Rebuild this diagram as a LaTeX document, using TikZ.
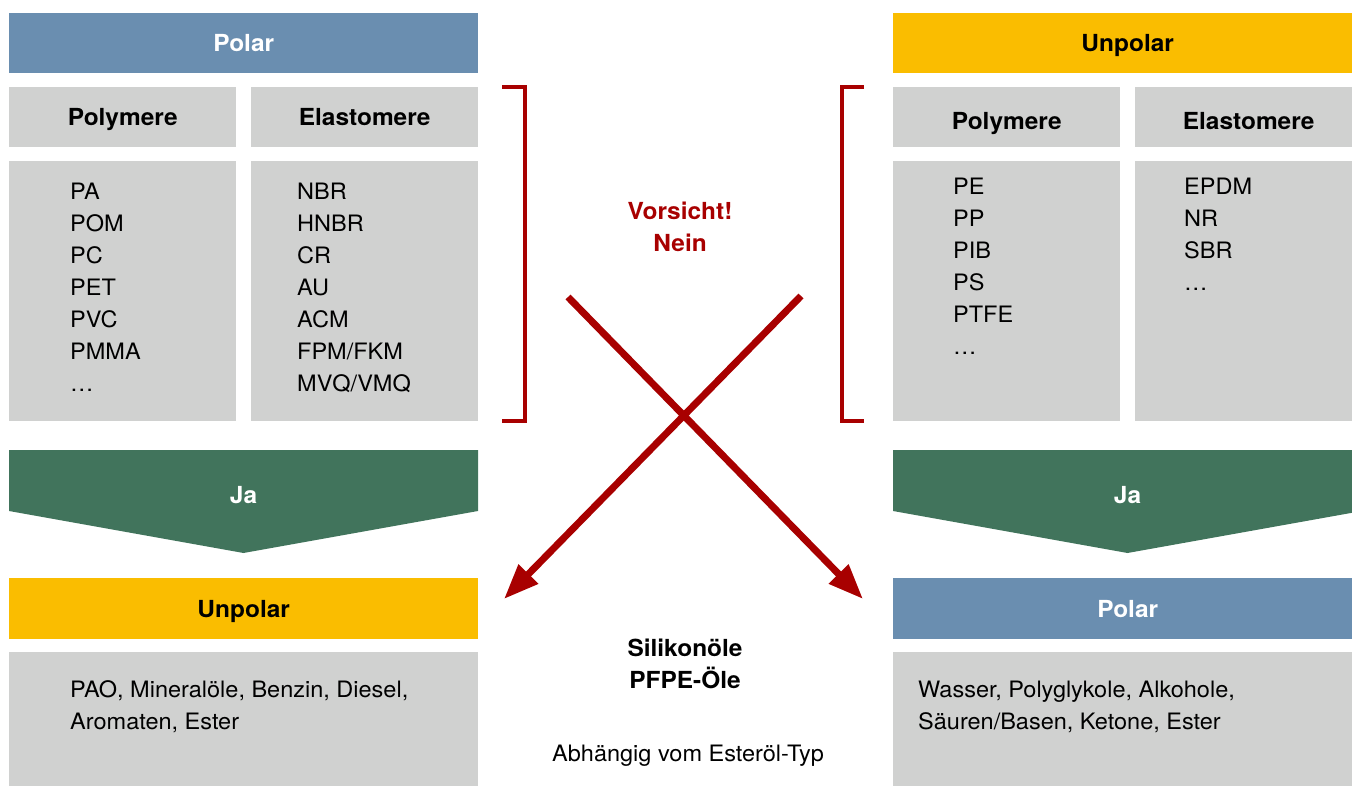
\documentclass[tikz,border=0pt]{standalone}
\usepackage{fontspec}
\setmainfont[FakeStretch=1.04]{TeX Gyre Heros}
\usetikzlibrary{arrows.meta}
\definecolor{polarblue}{HTML}{6A8EB0}
\definecolor{unpolaryellow}{HTML}{FABD00}
\definecolor{jagreen}{HTML}{41745C}
\definecolor{boxgrey}{HTML}{D0D1D0}
\definecolor{neinred}{HTML}{A80000}

\begin{document}
\begin{tikzpicture}[x=1pt,y=-1pt,
  panel/.style={anchor=north west,inner sep=0pt,text height=16.8pt,text depth=0pt,font=\fontsize{23.5}{27}\selectfont\bfseries},
  bluepanel/.style={panel,fill=polarblue,text=white,minimum width=469pt,minimum height=60pt},
  yellowpanel/.style={panel,fill=unpolaryellow,minimum width=469pt,minimum height=60pt},
  greypanel/.style={panel,fill=boxgrey,minimum width=227pt},
  listitem/.style={anchor=base west,inner sep=0pt,font=\fontsize{22.6}{27}\selectfont},
  midlabel/.style={inner sep=0pt,text height=16.8pt,text depth=0pt,font=\fontsize{23.5}{27}\selectfont\bfseries},
  bracket/.style={neinred,line width=3.5pt},
  neinarrow/.style={neinred,line width=7pt,-{Triangle[length=35pt,width=26pt]}}]
\path[use as bounding box,clip] (0,0) rectangle (1352,786);
% left column
\node[bluepanel] (polL) at (9,13) {Polar};
\node[greypanel,minimum height=60pt] (polyL) at (9,87) {Polymere};
\node[greypanel,minimum height=60pt] (elaL) at (251,87) {Elastomere};
\node[greypanel,minimum height=260pt] (polyLbox) at (9,161) {};
\node[greypanel,minimum height=260pt] (elaLbox) at (251,161) {};
\foreach \t [count=\i] in {PA,POM,PC,PET,PVC,PMMA,…} { \node[listitem] (polyL\i) at (70,{199.5+32*(\i-1)}) {\t}; }
\foreach \t [count=\i] in {NBR,HNBR,CR,AU,ACM,FPM/FKM,MVQ/VMQ} { \node[listitem] (elaL\i) at (297,{199.5+32*(\i-1)}) {\t}; }
\fill[jagreen] (9,450) -- (478,450) -- (478,511) -- (243.5,553) -- (9,511) -- cycle;
\node[midlabel,text=white] (jaL) at (243.5,495) {Ja};
\node[yellowpanel,minimum height=61pt] (unpolB) at (9,578) {Unpolar};
\node[greypanel,minimum width=469pt,minimum height=150pt] (oilL) at (9,652) {};
\node[listitem] (oilL1) at (70,697.5) {PAO, Mineralöle, Benzin, Diesel,};
\node[listitem] (oilL2) at (70,729.5) {Aromaten, Ester};
% right column
\node[yellowpanel] (unpolR) at (893,13) {Unpolar};
\node[greypanel,minimum height=60pt,text height=24.8pt] (polyR) at (893,87) {Polymere};
\node[greypanel,minimum height=60pt,text height=24.8pt] (elaR) at (1135,87) {Elastomere};
\node[greypanel,minimum height=260pt] (polyRbox) at (893,161) {};
\node[greypanel,minimum height=260pt] (elaRbox) at (1135,161) {};
\foreach \t [count=\i] in {PE,PP,PIB,PS,PTFE,…} { \node[listitem] (polyR\i) at (953,{194.5+32*(\i-1)}) {\t}; }
\foreach \t [count=\i] in {EPDM,NR,SBR,…} { \node[listitem] (elaR\i) at (1184,{194.5+32*(\i-1)}) {\t}; }
\fill[jagreen] (893,450) -- (1362,450) -- (1362,511) -- (1127.5,553) -- (893,511) -- cycle;
\node[midlabel,text=white] (jaR) at (1127.5,495) {Ja};
\node[bluepanel,minimum height=61pt] (polB) at (893,578) {Polar};
\node[greypanel,minimum width=469pt,minimum height=150pt] (oilR) at (893,652) {};
\node[listitem] (oilR1) at (918,697.5) {Wasser, Polyglykole, Alkohole,};
\node[listitem] (oilR2) at (918,729.5) {Säuren/Basen, Ketone, Ester};
% middle
\draw[bracket] (502,87) -- (525,87) -- (525,421) -- (502,421);
\draw[bracket] (864,87) -- (842,87) -- (842,421) -- (864,421);
\node[midlabel,text=neinred] (vorsicht) at (680,211) {Vorsicht!};
\node[midlabel,text=neinred] (nein) at (680,243) {Nein};
\coordinate (crossA) at (568,297);
\coordinate (crossB) at (801,296);
\coordinate (tipA) at (863,599);
\coordinate (tipB) at (504,599);
\draw[neinarrow] (crossA) -- (tipA);
\draw[neinarrow] (crossB) -- (tipB);
\node[midlabel] (silikon) at (685,648) {Silikonöle};
\node[midlabel] (pfpe) at (685,680) {PFPE-Öle};
\node[midlabel,font=\fontsize{22.6}{27}\selectfont,text height=16.2pt] (esteroel) at (688,753) {Abhängig vom Esteröl-Typ};
\end{tikzpicture}
\end{document}
